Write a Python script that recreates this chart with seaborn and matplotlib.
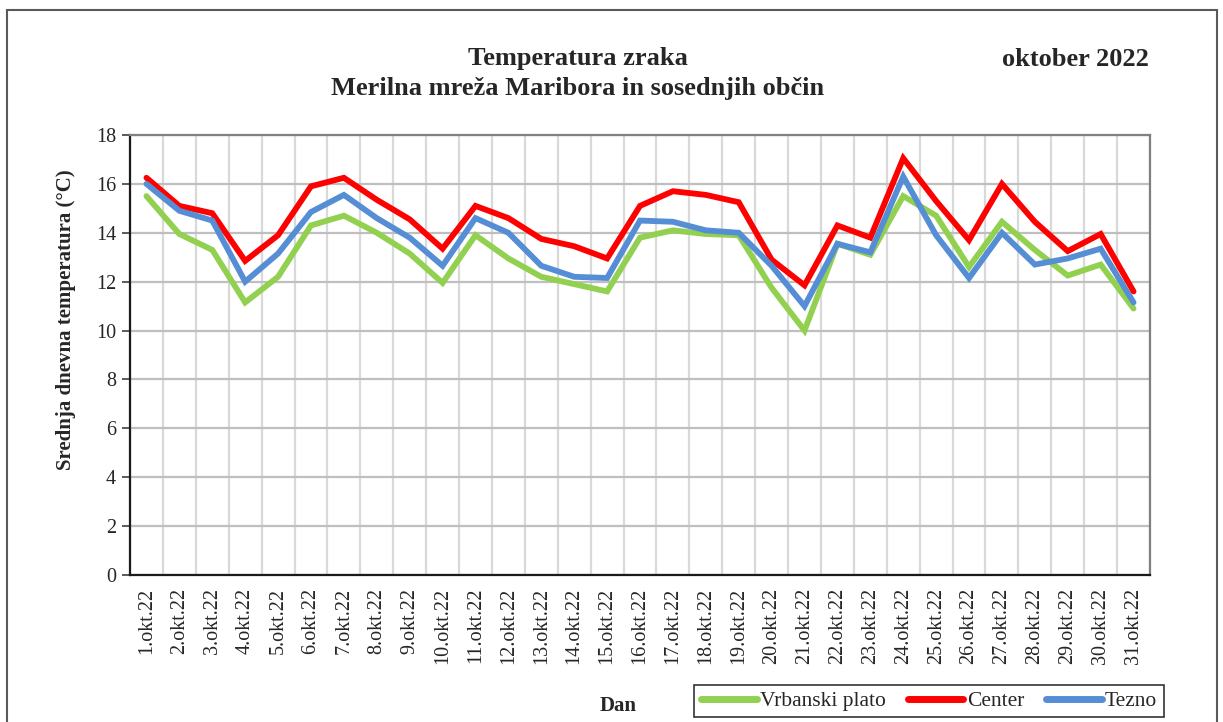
import matplotlib
matplotlib.use("Agg")
import matplotlib.pyplot as plt
from matplotlib.patches import Rectangle
from matplotlib.ticker import MultipleLocator, FixedLocator
import seaborn as sns
import pandas as pd
import numpy as np

days = [f"{i}.okt.22" for i in range(1, 32)]
series_names = ["Vrbanski plato", "Center", "Tezno"]
vrbanski = [15.5, 13.95, 13.3, 11.15, 12.2, 14.3, 14.7, 14.0, 13.15, 11.95,
            13.9, 12.95, 12.2, 11.9, 11.6, 13.8, 14.1, 13.95, 13.9, 11.75,
            10.0, 13.55, 13.1, 15.5, 14.7, 12.6, 14.45, 13.3, 12.25, 12.7, 10.9]
center = [16.25, 15.1, 14.8, 12.85, 13.9, 15.9, 16.25, 15.35, 14.55, 13.35,
          15.1, 14.6, 13.75, 13.45, 12.95, 15.1, 15.7, 15.55, 15.25, 12.9,
          11.85, 14.3, 13.8, 17.05, 15.3, 13.7, 16.0, 14.45, 13.25, 13.95, 11.6]
tezno = [16.0, 14.9, 14.5, 12.0, 13.15, 14.85, 15.55, 14.6, 13.8, 12.65,
         14.6, 14.0, 12.65, 12.2, 12.15, 14.5, 14.45, 14.1, 14.0, 12.65,
         11.0, 13.55, 13.2, 16.3, 13.9, 12.15, 14.0, 12.7, 12.95, 13.35, 11.15]
colors = ["#92D050", "#FF0000", "#558ED5"]

sns.set_theme(style="white")
plt.rcParams["font.family"] = ["Liberation Serif", "DejaVu Serif"]

df = pd.DataFrame({
    "Dan": list(range(31)) * 3,
    "Temp": vrbanski + center + tezno,
    "Postaja": [series_names[0]] * 31 + [series_names[1]] * 31 + [series_names[2]] * 31,
})

fig = plt.figure(figsize=(12.23, 7.22), dpi=100)
ax = fig.add_axes([130 / 1223, 1 - 575 / 722, 1020 / 1223, 440 / 722])

sns.lineplot(data=df, x="Dan", y="Temp", hue="Postaja", hue_order=series_names,
             palette=colors, linewidth=4.2, ax=ax, legend=True,
             solid_joinstyle="miter")

ax.set_xlim(-0.5, 30.5)
ax.set_ylim(0, 18)
ax.yaxis.set_major_locator(MultipleLocator(2))
ax.set_xticks(range(31))
ax.set_xticklabels(days, rotation=90, fontsize=14.5)
ax.xaxis.set_minor_locator(FixedLocator(np.arange(-0.5, 31, 1)))
ax.tick_params(axis="x", which="major", length=0, pad=9)
ax.tick_params(axis="x", which="minor", length=6, width=1.2, color="#404040", direction="out")
ax.tick_params(axis="y", which="major", length=6, width=1.2, color="#404040", direction="out",
               labelsize=14.5, pad=4, left=True)
ax.grid(axis="y", which="major", color="#BFBFBF", linewidth=1.6)
ax.grid(axis="x", which="minor", color="#D9D9D9", linewidth=1.6)
ax.grid(axis="x", which="major", visible=False)
ax.set_axisbelow(True)
for s in ["top", "right"]:
    ax.spines[s].set_color("#808080")
    ax.spines[s].set_linewidth(1.6)
for s in ["left", "bottom"]:
    ax.spines[s].set_color("#1a1a1a")
    ax.spines[s].set_linewidth(1.6)
ax.set_xlabel("")
ax.set_ylabel("")

handles, labels = ax.get_legend_handles_labels()
ax.get_legend().remove()
leg = fig.legend(handles, labels, loc="center", bbox_to_anchor=(929 / 1223, 1 - 701 / 722),
                 ncol=3, fontsize=15.5, frameon=True, fancybox=False, edgecolor="black",
                 handlelength=2.6, handletextpad=0.15, columnspacing=1.0, borderpad=0.3)
leg.get_frame().set_linewidth(1.2)
for h in leg.get_lines():
    h.set_linewidth(5)
    h.set_solid_capstyle("round")

fig.text(578 / 1223, 1 - 58 / 722, "Temperatura zraka", ha="center", va="center",
         fontsize=19, fontweight="bold")
fig.text(578 / 1223, 1 - 88 / 722, "Merilna mreža Maribora in sosednjih občin",
         ha="center", va="center", fontsize=19, fontweight="bold")
fig.text(1075 / 1223, 1 - 59 / 722, "oktober 2022", ha="center", va="center",
         fontsize=19, fontweight="bold")
fig.text(66 / 1223, 1 - 320 / 722, "Srednja dnevna temperatura (°C)", ha="center",
         va="center", rotation=90, fontsize=15, fontweight="bold")
fig.text(618 / 1223, 1 - 706 / 722, "Dan", ha="center", va="center",
         fontsize=15, fontweight="bold")

fig.add_artist(Rectangle((7 / 1223, -0.05), 1210 / 1223, (712 / 722) + 0.05,
                         transform=fig.transFigure, fill=False,
                         edgecolor="#595959", linewidth=1.5))

fig.savefig("out.png", dpi=100)
